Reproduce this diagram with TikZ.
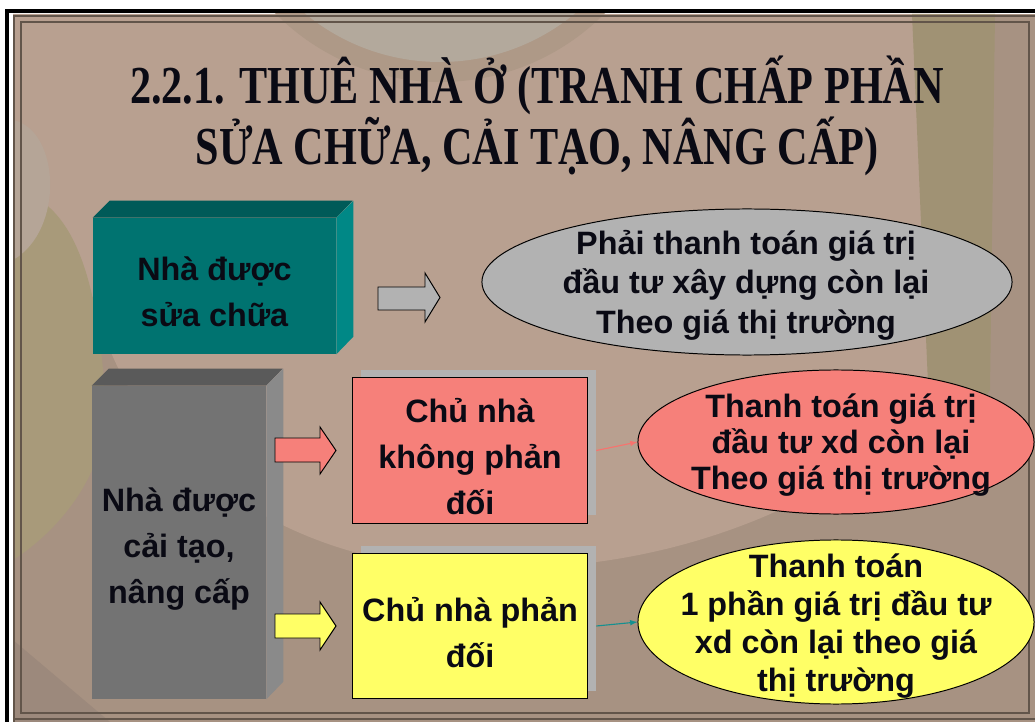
\documentclass[tikz,border=0pt]{standalone}
\usepackage{fontspec}
\setsansfont{Liberation Sans}
\newfontfamily\titlefont[FakeStretch=0.79]{Liberation Serif}
\usepackage{tikz}
\usetikzlibrary{shapes.geometric}

\definecolor{ink}{HTML}{0A0A14}
\definecolor{bgbase}{HTML}{A79282}
\definecolor{bglight}{HTML}{B8A090}
\definecolor{bgolive}{HTML}{A89A7A}
\definecolor{bgpale}{HTML}{B3A99C}
\definecolor{bgring}{HTML}{AE9987}
\definecolor{bgdeep}{HTML}{9C897C}
\definecolor{framecol}{HTML}{62554A}
\definecolor{tealfront}{HTML}{007370}
\definecolor{tealtop}{HTML}{005A58}
\definecolor{tealside}{HTML}{008886}
\definecolor{greyfront}{HTML}{737373}
\definecolor{greytop}{HTML}{5A5A5A}
\definecolor{greyside}{HTML}{8A8A8A}
\definecolor{lightgrey}{HTML}{B2B2B2}
\definecolor{salmon}{HTML}{F6807A}
\definecolor{lemon}{HTML}{FFFF66}
\definecolor{tealline}{HTML}{159090}

\begin{document}
\begin{tikzpicture}[x=0.025cm, y=-0.025cm,
		title_style/.style={anchor=base, text=ink, font=\titlefont\bfseries\fontsize{38}{44}\selectfont},
		box_style/.style={rectangle, inner sep=0pt},
		box_text/.style={align=center, text=ink, inner sep=0pt,
			font=\sffamily\bfseries\fontsize{23}{33}\selectfont},
		shadow_style/.style={rectangle, inner sep=0pt, fill=lightgrey},
		ell_style/.style={ellipse, inner sep=0pt, draw=black, line width=0.7pt},
		ell_text/.style={align=center, text=ink, inner sep=0pt,
			font=\sffamily\bfseries\fontsize{23}{27}\selectfont},
		block_arrow/.style={draw=black, line width=0.7pt},
		thin_edge/.style={line width=0.8pt, -latex}]

		\useasboundingbox (0,0) rectangle (1035,722);
		\fill[white] (0,0) rectangle (1035,722);

		% background of the slide
		\begin{scope}
		\clip (13,14) rectangle (1035,722);
		\fill[bgbase] (13,14) rectangle (1035,722);
		\fill[bglight] (13,14) -- (930,14) -- (965,385)
			.. controls (820,520) and (640,585) .. (420,565)
			.. controls (250,545) and (120,430) .. (95,300)
			-- (13,200) -- cycle;
		\fill[bgolive] (13,190) .. controls (80,200) and (100,300) .. (105,400)
			.. controls (110,470) and (60,530) .. (13,560) -- cycle;
		\fill[bgpale!60!bglight] (13,120) .. controls (60,130) and (65,230) .. (13,260) -- cycle;
		\fill[bgring] (440,-150) circle (232);
		\fill[bgpale] (440,-150) circle (212);
		\fill[bgolive!95!black] (912,14) -- (995,14) -- (990,390) .. controls (970,420) and (950,430) .. (930,430) -- cycle;
		\fill[bgdeep] (13,640) -- (110,722) -- (13,722) -- cycle;
		\end{scope}

		% slide frame
		\draw[black, line width=2.2pt] (7,722) -- (7,11) -- (1035,11);
		\draw[framecol, line width=1.2pt] (14,722) -- (14,16) -- (1035,16);
		\draw[framecol, line width=1.2pt] (21,713) -- (21,22) -- (1029,22) -- (1029,713) -- cycle;
		\draw[framecol, line width=1.2pt] (14,719) -- (1035,719);

		% title
		\node[title_style] (t1) at (537,104) {2.2.1. THUÊ NHÀ Ở (TRANH CHẤP PHẦN};
		\node[title_style] (t2) at (537,165) {SỬA CHỮA, CẢI TẠO, NÂNG CẤP)};

		% repaired house
		\node[box_style, fill=tealfront, minimum width=6.075cm, minimum height=3.4cm] (n_sua) at (214.5,286) {};
		\fill[tealtop] (n_sua.north west) -- ++(17,-17) -- ++(243,0) -- (n_sua.north east) -- cycle;
		\fill[tealside] (n_sua.north east) -- ++(17,-17) -- ++(0,136) -- (n_sua.south east) -- cycle;
		\node[box_text] (n_sua_txt) at (214.5,292) {Nhà được\\sửa chữa};

		\draw[block_arrow, fill=lightgrey] (378,287) -- (425,287) -- (425,273) -- (440,297.5) -- (425,322) -- (425,310) -- (378,310) -- cycle;

		\node[ell_style, fill=lightgrey, minimum width=13.25cm, minimum height=3.65cm] (e_sua) at (747,282) {};
		\node[ell_text, font=\sffamily\bfseries\fontsize{23}{28}\selectfont] (e_sua_txt) at (746,285) {Phải thanh toán giá trị\\đầu tư xây dựng còn lại\\Theo giá thị trường};

		% upgraded house
		\node[box_style, fill=greyfront, minimum width=4.35cm, minimum height=7.825cm] (n_cai) at (179,542.5) {};
		\fill[greytop] (n_cai.north west) -- ++(17,-17) -- ++(174,0) -- (n_cai.north east) -- cycle;
		\fill[greyside] (n_cai.north east) -- ++(17,-17) -- ++(0,313) -- (n_cai.south east) -- cycle;
		\node[box_text] (n_cai_txt) at (179,549) {Nhà được\\cải tạo,\\nâng cấp};

		\draw[block_arrow, fill=salmon] (275,438) -- (320,438) -- (320,427) -- (336,450.5) -- (320,474) -- (320,462) -- (275,462) -- cycle;
		\draw[block_arrow, fill=lemon] (275,614) -- (320,614) -- (320,602) -- (336,626) -- (320,650) -- (320,638) -- (275,638) -- cycle;

		\node[shadow_style, minimum width=5.875cm, minimum height=3.625cm] (n_khong_sh) at (478.5,442.5) {};
		\node[box_style, fill=salmon, draw=black, line width=0.7pt, minimum width=5.85cm, minimum height=3.625cm] (n_khong) at (470,450.5) {};
		\node[box_text] (n_khong_txt) at (470,456.5) {Chủ nhà\\không phản\\đối};

		\node[shadow_style, minimum width=5.875cm, minimum height=3.625cm] (n_phan_sh) at (478.5,618.5) {};
		\node[box_style, fill=lemon, draw=black, line width=0.7pt, minimum width=5.85cm, minimum height=3.6cm] (n_phan) at (470,626) {};
		\node[box_text] (n_phan_txt) at (470,632.5) {Chủ nhà phản\\đối};

		\node[ell_style, fill=salmon, minimum width=9.9cm, minimum height=3.6cm] (e_khong) at (836,442) {};
		\node[ell_text, font=\sffamily\bfseries\fontsize{23}{25.5}\selectfont] (e_khong_txt) at (841,445) {Thanh toán giá trị\\đầu tư xd còn lại\\Theo giá thị trường};

		\node[ell_style, fill=lemon, minimum width=9.9cm, minimum height=4.1cm] (e_phan) at (836,622) {};
		\node[ell_text] (e_phan_txt) at (836,626) {Thanh toán\\1 phần giá trị đầu tư\\xd còn lại theo giá\\thị trường};

		\draw[thin_edge, salmon!90!red] (n_khong.east -| n_khong_sh.east) -- (e_khong.west);
		\draw[thin_edge, tealline] (n_phan.east -| n_phan_sh.east) -- (e_phan.west);
\end{tikzpicture}
\end{document}
